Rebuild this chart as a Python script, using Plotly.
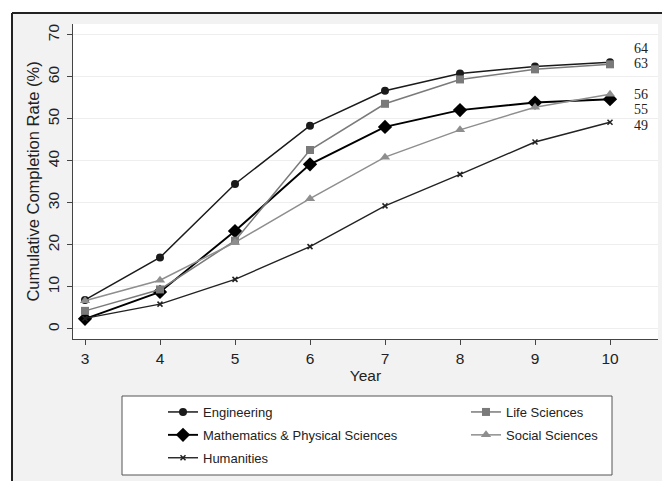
import plotly.graph_objects as go

years = [3, 4, 5, 6, 7, 8, 9, 10]
engineering = [6.9, 17.0, 34.5, 48.4, 56.7, 60.8, 62.5, 63.5]
life_sciences = [4.3, 9.4, 21.0, 42.6, 53.6, 59.4, 61.8, 63.0]
math_phys = [2.4, 8.8, 23.3, 39.2, 48.1, 52.1, 53.9, 54.7]
social_sciences = [6.7, 11.6, 20.6, 31.0, 40.9, 47.4, 52.8, 55.9]
humanities = [2.5, 5.9, 11.8, 19.6, 29.3, 36.8, 44.5, 49.2]

FONT = "Liberation Sans, Arial, sans-serif"
W, H = 662, 481
ML, MR, MT, MB = 73, 4, 24, 142
PW, PH = W - ML - MR, H - MT - MB


def px_x(p):
    return (p - ML) / PW


def px_y(p):
    return (H - MB - p) / PH


fig = go.Figure()

series = [
    ("Engineering", engineering, "#1a1a1a", 1.5, "circle", 8, "legend"),
    ("Mathematics & Physical Sciences", math_phys, "#000000", 1.9, "diamond", 11, "legend"),
    ("Humanities", humanities, "#222222", 1.4, "x-thin", 5, "legend"),
    ("Life Sciences", life_sciences, "#7a7a7a", 1.5, "square", 8, "legend2"),
    ("Social Sciences", social_sciences, "#8e8e8e", 1.5, "triangle-up", 9, "legend2"),
]

for name, vals, col, lw, sym, ms, lg in series:
    fig.add_trace(go.Scatter(
        x=years, y=vals, name=name, mode="lines+markers",
        line=dict(color=col, width=lw),
        marker=dict(symbol=sym, size=ms, color=col,
                    line=dict(color=col, width=1.5 if sym == "x-thin" else 0)),
        legend=lg, legendgroup=name,
    ))

# end labels
label_pos = [66.7, 63.1, 52.2, 55.8, 48.4]
finals = [engineering[-1], life_sciences[-1], math_phys[-1], social_sciences[-1], humanities[-1]]
for v, yp in zip(finals, label_pos):
    fig.add_annotation(x=10.29, y=yp, text=f"{v:.0f}", showarrow=False,
                       xanchor="left", yanchor="middle",
                       font=dict(family="Liberation Serif, Times New Roman, serif", size=14, color="#222"))

shapes = [
    # white strips outside the frame
    dict(type="rect", xref="paper", yref="paper", layer="below",
         x0=px_x(0), x1=px_x(12), y0=px_y(H), y1=px_y(0),
         fillcolor="#ffffff", line=dict(width=0)),
    dict(type="rect", xref="paper", yref="paper", layer="below",
         x0=px_x(0), x1=px_x(W), y0=px_y(13), y1=px_y(0),
         fillcolor="#ffffff", line=dict(width=0)),
    # frame lines
    dict(type="line", xref="paper", yref="paper", layer="below",
         x0=px_x(12), x1=px_x(W), y0=px_y(13), y1=px_y(13),
         line=dict(color="#222222", width=2)),
    dict(type="line", xref="paper", yref="paper", layer="below",
         x0=px_x(12), x1=px_x(12), y0=px_y(13), y1=px_y(H),
         line=dict(color="#222222", width=2)),
    # plot region white
    dict(type="rect", xref="paper", yref="paper", layer="below",
         x0=0, x1=1, y0=0, y1=1,
         fillcolor="#ffffff", line=dict(width=0)),
    # legend box
    dict(type="rect", xref="paper", yref="paper", layer="below",
         x0=px_x(122), x1=px_x(612), y0=px_y(396), y1=px_y(475),
         fillcolor="#ffffff", line=dict(color="#555555", width=1)),
]

fig.update_layout(
    width=W, height=H,
    margin=dict(l=ML, r=MR, t=MT, b=MB),
    paper_bgcolor="#f2f2f2", plot_bgcolor="#ffffff",
    font=dict(family=FONT, color="#222"),
    shapes=shapes,
    legend=dict(x=px_x(163), y=px_y(397), xanchor="left", yanchor="top",
                bgcolor="rgba(0,0,0,0)", font=dict(size=13, family=FONT, color="#222"),
                tracegroupgap=3, traceorder="grouped"),
    legend2=dict(x=px_x(466), y=px_y(397), xanchor="left", yanchor="top",
                 bgcolor="rgba(0,0,0,0)", font=dict(size=13, family=FONT, color="#222"),
                 tracegroupgap=3, traceorder="grouped"),
    xaxis=dict(range=[2.84, 10.64], tickvals=years, ticks="outside", ticklen=5,
               tickcolor="#444", showline=True, linecolor="#444", linewidth=1,
               showgrid=False, zeroline=False, tickfont=dict(size=15.5, color="#222"),
               title=dict(text="Year", font=dict(size=15.5, color="#222"), standoff=2)),
    yaxis=dict(range=[-2.4, 72.6], tickvals=list(range(0, 80, 10)), ticks="outside",
               ticklen=5, tickcolor="#444", showline=True, linecolor="#444", linewidth=1,
               showgrid=True, gridcolor="#eeeeee", gridwidth=1, zeroline=False,
               tickangle=-90, tickfont=dict(size=15.5, color="#222"), ticklabelstandoff=2,
               title=dict(text="Cumulative Completion Rate (%)", font=dict(size=16.5, color="#222"),
                          standoff=1)),
)

fig.write_html("out.html", config={"displayModeBar": False},
               post_script="document.body.style.margin='0';")
